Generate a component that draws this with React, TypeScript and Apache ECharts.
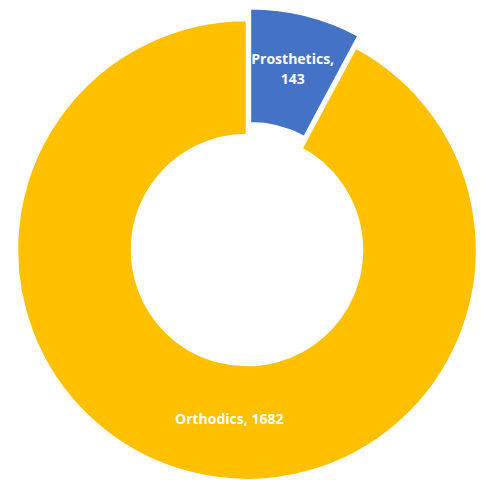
import React, { useEffect, useRef } from "react";
import * as echarts from "echarts";

const categories = ["Prosthetics", "Orthodics"];
const values = [143, 1682];
const colors = ["#4472C4", "#FFC000"];

export default function App() {
  const ref = useRef<HTMLDivElement>(null);
  useEffect(() => {
    document.body.style.margin = "0";
    const chart = echarts.init(ref.current!, null, { renderer: "svg" });
    chart.setOption({
      animation: false,
      backgroundColor: "#ffffff",
      series: [
        {
          type: "pie",
          center: [247, 250],
          radius: [115, 230],
          startAngle: 90,
          clockwise: true,
          selectedMode: "single",
          selectedOffset: 12,
          avoidLabelOverlap: false,
          itemStyle: { borderColor: "#ffffff", borderWidth: 2.5 },
          label: {
            show: true,
            position: "inside",
            color: "#ffffff",
            fontWeight: "bold",
            fontSize: 14,
            fontFamily: "Open Sans",
            lineHeight: 20,
            formatter: (p: any) =>
              p.dataIndex === 0 ? `${p.name},\n${p.value}` : `${p.name}, ${p.value}`,
          },
          labelLine: { show: false },
          emphasis: { disabled: true },
          data: categories.map((name, i) => ({
            name,
            value: values[i],
            selected: i === 0,
            itemStyle: { color: colors[i] },
            label: i === 1 ? { offset: [25, -2] } : { offset: [2, 2] },
          })),
        },
      ],
    });
    return () => chart.dispose();
  }, []);
  return <div ref={ref} style={{ width: 481, height: 480 }} />;
}
